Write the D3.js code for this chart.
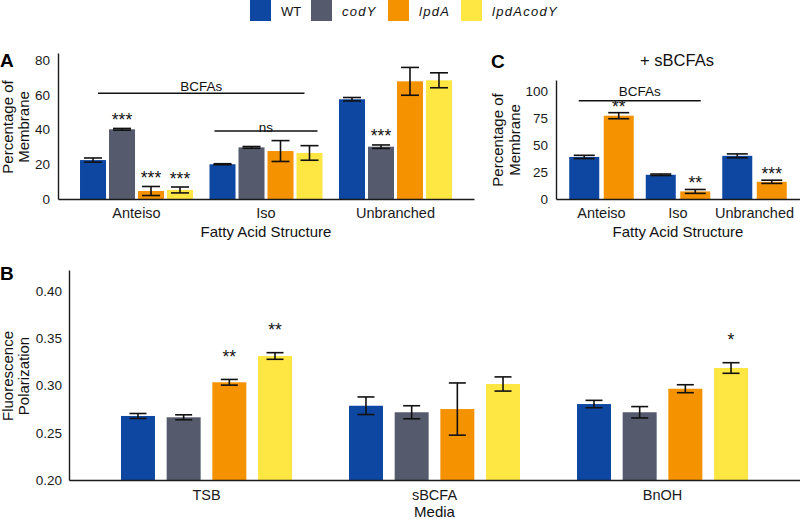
<!DOCTYPE html>
<html>
<head>
<meta charset="utf-8">
<script src="https://cdn.jsdelivr.net/npm/d3@7"></script>
<style>
  html, body { margin: 0; padding: 0; background: #fff; }
  svg { display: block; font-family: "Liberation Sans", Arial, sans-serif; }
  .axis path, .axis line { stroke: #1a1a1a; stroke-width: 1.4; }
  .axis text { fill: #1a1a1a; }
</style>
</head>
<body>
<svg id="chart" width="800" height="519"></svg>
<script>
// ---------------- DATA ----------------
const genotypes = ["WT", "codY", "lpdA", "lpdAcodY"];
const genotypeColors = ["#0D47A1", "#555B6C", "#F59200", "#FFE743"];

// Panel A: fatty acid composition (% of membrane)
const structures = ["Anteiso", "Iso", "Unbranched"];
const aWT        = [22.4, 20.0, 57.4];
const aCodY      = [40.1, 29.7, 30.1];
const aLpdA      = [4.6, 27.6, 67.7];
const aLpdAcodY  = [5.2, 26.5, 68.3];
const aWTErr       = [1.2, 0.3, 1.0];
const aCodYErr     = [0.5, 0.5, 1.0];
const aLpdAErr     = [2.6, 6.0, 8.0];
const aLpdAcodYErr = [1.7, 4.2, 4.3];
const aTicks = [0, 20, 40, 60, 80];
const aSig = [
  { group: "Anteiso", genotype: "codY", label: "***" },
  { group: "Anteiso", genotype: "lpdA", label: "***" },
  { group: "Anteiso", genotype: "lpdAcodY", label: "***" },
  { group: "Unbranched", genotype: "codY", label: "***" }
];

// Panel C: + sBCFAs
const cGenotypes = ["WT", "lpdA"];
const cWT      = [38.9, 22.4, 39.9];
const cLpdA    = [77.0, 7.0, 15.9];
const cWTErr   = [1.5, 0.7, 1.8];
const cLpdAErr = [2.8, 1.8, 1.5];
const cTicks = [0, 25, 50, 75, 100];
const cSig = [
  { group: "Anteiso", genotype: "lpdA", label: "**" },
  { group: "Iso", genotype: "lpdA", label: "**" },
  { group: "Unbranched", genotype: "lpdA", label: "***" }
];

// Panel B: fluorescence polarization
const media = ["TSB", "sBCFA", "BnOH"];
const bWT        = [0.2677, 0.2785, 0.2803];
const bCodY      = [0.2663, 0.2716, 0.2716];
const bLpdA      = [0.3033, 0.2750, 0.2965];
const bLpdAcodY  = [0.3311, 0.3015, 0.3184];
const bWTErr       = [0.0026, 0.0093, 0.0039];
const bCodYErr     = [0.0026, 0.0069, 0.0060];
const bLpdAErr     = [0.0030, 0.0276, 0.0042];
const bLpdAcodYErr = [0.0035, 0.0075, 0.0056];
const bTicks = [0.20, 0.25, 0.30, 0.35, 0.40];
const bSig = [
  { group: "TSB", genotype: "lpdA", label: "**" },
  { group: "TSB", genotype: "lpdAcodY", label: "**" },
  { group: "BnOH", genotype: "lpdAcodY", label: "*" }
];

// ---------------- HELPERS ----------------
const svg = d3.select("#chart");
const FONT = "'Liberation Sans', Arial, sans-serif";
const color = d3.scaleOrdinal().domain(genotypes).range(genotypeColors);

function rows(groups, gens, vals, errs) {
  const out = [];
  groups.forEach((g, i) => {
    gens.forEach((k, j) => {
      out.push({ group: g, genotype: k, value: vals[j][i], err: errs[j][i] });
    });
  });
  return out;
}

function drawPanel(opt) {
  const g = svg.append("g");
  const { x0, x1, y } = opt;
  // bars
  g.selectAll("rect.bar").data(opt.data).join("rect")
    .attr("class", "bar")
    .attr("x", d => x0(d.group) + x1(d.genotype))
    .attr("width", x1.bandwidth())
    .attr("y", d => y(d.value))
    .attr("height", d => y.range()[0] - y(d.value))
    .attr("fill", d => color(d.genotype));
  // error bars
  const eb = g.selectAll("g.err").data(opt.data).join("g").attr("class", "err")
    .attr("stroke", "#111").attr("stroke-width", 1.6);
  const cx = d => x0(d.group) + x1(d.genotype) + x1.bandwidth() / 2;
  eb.append("line").attr("x1", cx).attr("x2", cx)
    .attr("y1", d => y(d.value + d.err)).attr("y2", d => y(d.value - d.err));
  eb.append("line").attr("x1", d => cx(d) - opt.cap / 2).attr("x2", d => cx(d) + opt.cap / 2)
    .attr("y1", d => y(d.value + d.err)).attr("y2", d => y(d.value + d.err));
  eb.append("line").attr("x1", d => cx(d) - opt.cap / 2).attr("x2", d => cx(d) + opt.cap / 2)
    .attr("y1", d => y(d.value - d.err)).attr("y2", d => y(d.value - d.err));
  // significance
  g.selectAll("text.sig").data(opt.sig).join("text")
    .attr("class", "sig")
    .attr("x", s => x0(s.group) + x1(s.genotype) + x1.bandwidth() / 2)
    .attr("y", s => {
      const d = opt.data.find(r => r.group === s.group && r.genotype === s.genotype);
      return y(d.value + d.err) - opt.sigGap + 3.5;
    })
    .attr("text-anchor", "middle")
    .attr("font-size", 17.5).attr("fill", "#111").style("font-family", FONT)
    .text(s => s.label);
  // axes
  const yAxis = g.append("g").attr("class", "axis")
    .attr("transform", `translate(${x0.range()[0]},0)`)
    .call(d3.axisLeft(y).tickValues(opt.ticks).tickFormat(opt.fmt).tickSize(0).tickPadding(opt.tickPad));
  yAxis.selectAll("text").attr("font-size", 13.5).style("font-family", FONT);
  const xAxis = g.append("g").attr("class", "axis")
    .attr("transform", `translate(0,${y.range()[0]})`)
    .call(d3.axisBottom(x0).tickSize(0).tickSizeOuter(0));
  xAxis.selectAll("text").attr("dy", null).attr("y", opt.catY)
    .attr("font-size", 14.5).style("font-family", FONT);
  return g;
}

// ---------------- LEGEND ----------------
const legendX = [250, 311, 388, 461];
const lg = svg.append("g");
genotypes.forEach((k, i) => {
  lg.append("rect").attr("x", legendX[i]).attr("y", 0).attr("width", 21).attr("height", 21)
    .attr("fill", color(k));
  lg.append("text").attr("x", legendX[i] + 31).attr("y", 15.5)
    .attr("font-size", 13).attr("fill", "#111")
    .attr("font-style", k === "WT" ? "normal" : "italic")
    .attr("letter-spacing", k === "WT" ? 0 : 1.3)
    .style("font-family", FONT)
    .text(k);
});

// ---------------- PANEL A ----------------
const xA0 = d3.scaleBand().domain(structures).range([58, 474]).paddingInner(0.1274).paddingOuter(0.17);
const xA1 = d3.scaleBand().domain(genotypes).range([0, xA0.bandwidth()]).paddingInner(0.103).paddingOuter(0);
const yA = d3.scaleLinear().domain([0, 84]).range([199, 53]);
const dataA = rows(structures, genotypes, [aWT, aCodY, aLpdA, aLpdAcodY], [aWTErr, aCodYErr, aLpdAErr, aLpdAcodYErr]);
const gA = drawPanel({ x0: xA0, x1: xA1, y: yA, data: dataA, sig: aSig, cap: 18, sigGap: 6,
  ticks: aTicks, fmt: d3.format("d"), tickPad: 8, catY: 19 });

// brackets A
const bcfaA = [xA0("Anteiso") + 18, xA0("Iso") + xA0.bandwidth() - 18];
gA.append("line").attr("x1", bcfaA[0]).attr("x2", bcfaA[1]).attr("y1", yA(60.8)).attr("y2", yA(60.8))
  .attr("stroke", "#111").attr("stroke-width", 1.4);
gA.append("text").attr("x", (bcfaA[0] + bcfaA[1]) / 2).attr("y", yA(60.8) - 2)
  .attr("text-anchor", "middle").attr("font-size", 13.5).attr("fill", "#111").style("font-family", FONT).text("BCFAs");
const nsA = [xA0("Iso") + 5, xA0("Iso") + xA0.bandwidth() - 5];
gA.append("line").attr("x1", nsA[0]).attr("x2", nsA[1]).attr("y1", yA(39.1)).attr("y2", yA(39.1))
  .attr("stroke", "#111").attr("stroke-width", 1.4);
gA.append("text").attr("x", xA0("Iso") + xA0.bandwidth() / 2).attr("y", yA(39.1) + 0.5)
  .attr("text-anchor", "middle").attr("font-size", 13.5).attr("fill", "#111").style("font-family", FONT).text("ns");

gA.append("text").attr("x", 266).attr("y", 237).attr("text-anchor", "middle")
  .attr("font-size", 15).attr("fill", "#111").style("font-family", FONT).text("Fatty Acid Structure");
const yTitleA = gA.append("text").attr("transform", "translate(0,127) rotate(-90)")
  .attr("text-anchor", "middle").attr("font-size", 15).attr("fill", "#111").style("font-family", FONT);
yTitleA.append("tspan").attr("x", 0).attr("y", 13).text("Percentage of");
yTitleA.append("tspan").attr("x", 0).attr("y", 28.5).text("Membrane");
gA.append("text").attr("x", 0).attr("y", 67).attr("font-size", 19).attr("font-weight", "bold")
  .attr("fill", "#000").style("font-family", FONT).text("A");

// ---------------- PANEL C ----------------
const xC0 = d3.scaleBand().domain(structures).range([556, 800]).paddingInner(0.157).paddingOuter(0.173);
const xC1 = d3.scaleBand().domain(cGenotypes).range([0, xC0.bandwidth()]).paddingInner(0.13).paddingOuter(0);
const yC = d3.scaleLinear().domain([0, 110]).range([199, 80]);
const dataC = rows(structures, cGenotypes, [cWT, cLpdA], [cWTErr, cLpdAErr]);
const gC = drawPanel({ x0: xC0, x1: xC1, y: yC, data: dataC, sig: cSig, cap: 21, sigGap: 3.5,
  ticks: cTicks, fmt: d3.format("d"), tickPad: 8, catY: 19 });
const bcfaC = [xC0("Anteiso") + 9.5, xC0("Iso") + xC0.bandwidth() - 9.5];
gC.append("line").attr("x1", bcfaC[0]).attr("x2", bcfaC[1]).attr("y1", yC(90.8)).attr("y2", yC(90.8))
  .attr("stroke", "#111").attr("stroke-width", 1.4);
gC.append("text").attr("x", (bcfaC[0] + bcfaC[1]) / 2).attr("y", yC(90.8) - 5)
  .attr("text-anchor", "middle").attr("font-size", 13.5).attr("fill", "#111").style("font-family", FONT).text("BCFAs");
gC.append("text").attr("x", 678).attr("y", 237).attr("text-anchor", "middle")
  .attr("font-size", 15).attr("fill", "#111").style("font-family", FONT).text("Fatty Acid Structure");
const yTitleC = gC.append("text").attr("transform", "translate(490,140) rotate(-90)")
  .attr("text-anchor", "middle").attr("font-size", 15).attr("fill", "#111").style("font-family", FONT);
yTitleC.append("tspan").attr("x", 0).attr("y", 13).text("Percentage of");
yTitleC.append("tspan").attr("x", 0).attr("y", 29.5).text("Membrane");
gC.append("text").attr("x", 491).attr("y", 68).attr("font-size", 19).attr("font-weight", "bold")
  .attr("fill", "#000").style("font-family", FONT).text("C");
gC.append("text").attr("x", 677).attr("y", 66).attr("text-anchor", "middle")
  .attr("font-size", 16.5).attr("fill", "#111").style("font-family", FONT).text("+ sBCFAs");

// ---------------- PANEL B ----------------
const xB0 = d3.scaleBand().domain(media).range([69, 800]).paddingInner(0.25).paddingOuter(0.228);
const xB1 = d3.scaleBand().domain(genotypes).range([0, xB0.bandwidth()]).paddingInner(0.256).paddingOuter(0);
const yB = d3.scaleLinear().domain([0.2, 0.422]).range([480, 270]);
const dataB = rows(media, genotypes, [bWT, bCodY, bLpdA, bLpdAcodY], [bWTErr, bCodYErr, bLpdAErr, bLpdAcodYErr]);
const gB = drawPanel({ x0: xB0, x1: xB1, y: yB, data: dataB, sig: bSig, cap: 17, sigGap: 20,
  ticks: bTicks, fmt: d3.format(".2f"), tickPad: 7, catY: 20 });
gB.append("text").attr("x", 434.5).attr("y", 517).attr("text-anchor", "middle")
  .attr("font-size", 15).attr("fill", "#111").style("font-family", FONT).text("Media");
const yTitleB = gB.append("text").attr("transform", "translate(0,376) rotate(-90)")
  .attr("text-anchor", "middle").attr("font-size", 15).attr("fill", "#111").style("font-family", FONT);
yTitleB.append("tspan").attr("x", 0).attr("y", 13).text("Fluorescence");
yTitleB.append("tspan").attr("x", 0).attr("y", 29).text("Polarization");
gB.append("text").attr("x", 0).attr("y", 280).attr("font-size", 19).attr("font-weight", "bold")
  .attr("fill", "#000").style("font-family", FONT).text("B");
</script>
</body>
</html>
